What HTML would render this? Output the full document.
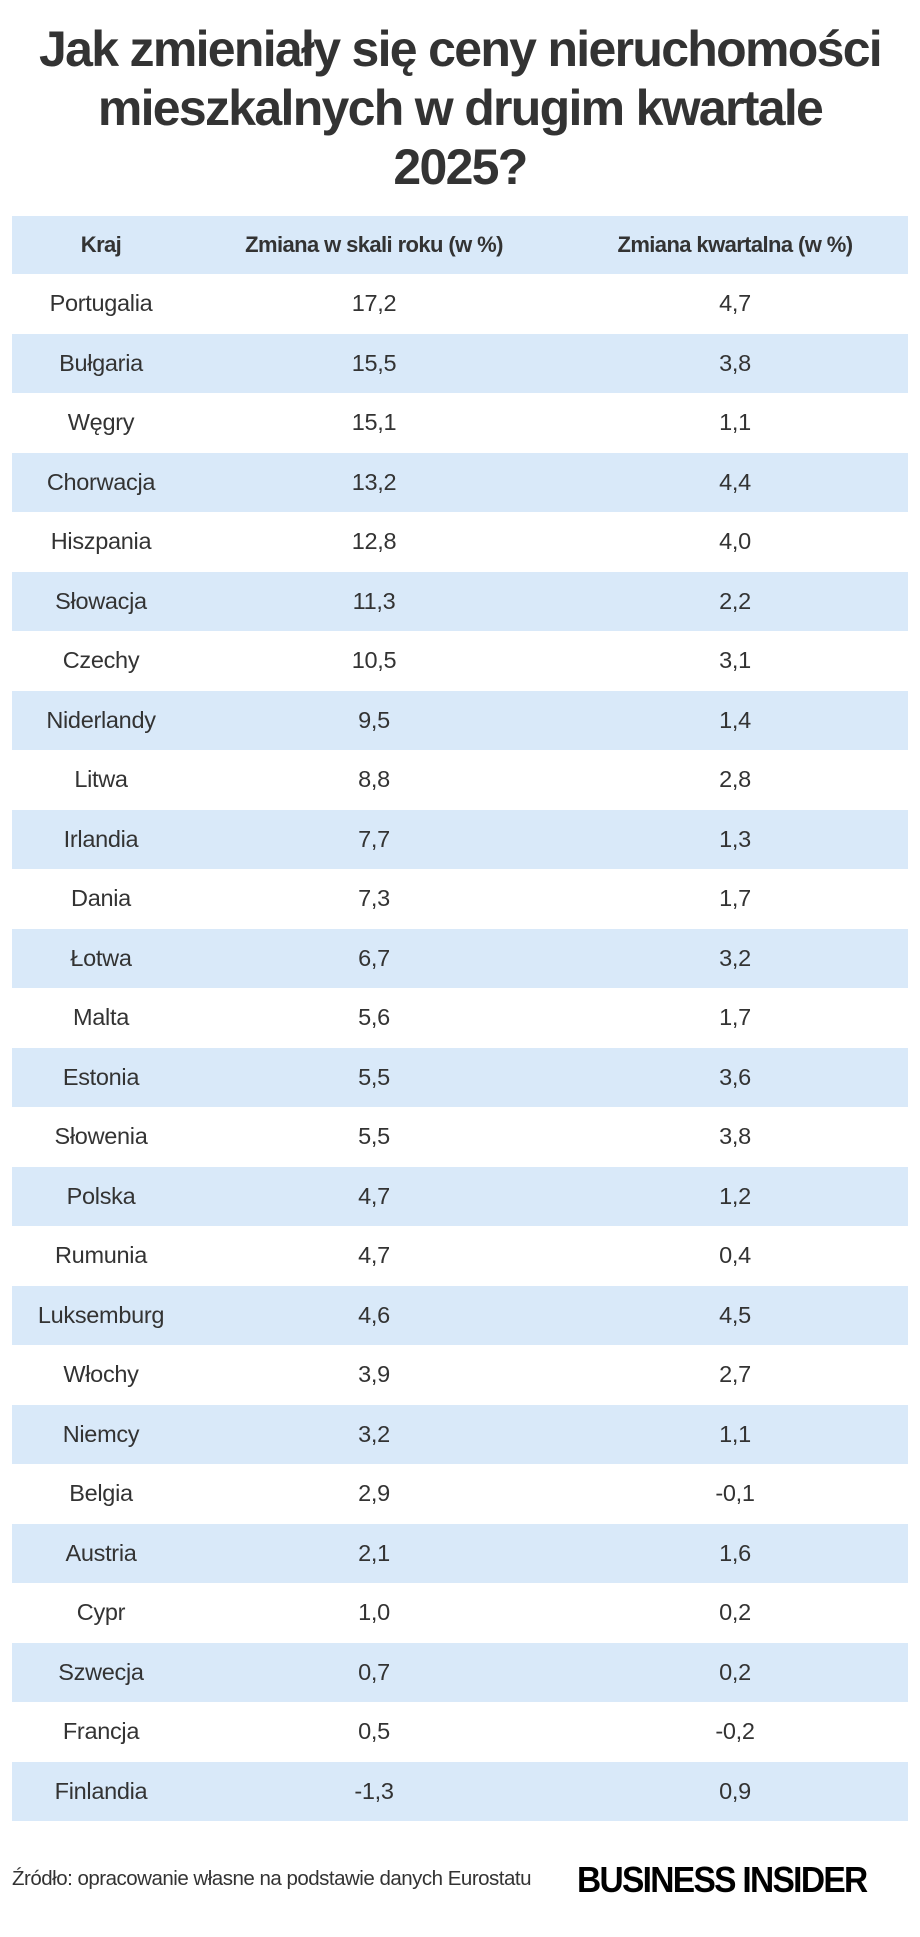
<!DOCTYPE html>
<html><head><meta charset="utf-8"><style>
body{margin:0;width:920px;height:1937px;background:#fff;font-family:"Liberation Sans",sans-serif;color:#333;position:relative;overflow:hidden}
.t{position:absolute;left:0;width:920px;text-align:center;font-weight:bold;font-size:50px;color:#333;letter-spacing:-1.7px}
.row{position:absolute;left:12px;width:896px;height:59.5px}
.b{background:#d9e9f9}
.c{position:absolute;top:0;line-height:59.5px;text-align:center;font-size:23.5px;color:#333;letter-spacing:-0.3px}
.c1{left:0;width:178px}.c2{left:262px;width:200px}.c3{left:623px;width:200px}
.h .c{font-weight:bold;font-size:22px;line-height:58px;letter-spacing:-0.6px}
</style></head><body>
<div class="t" style="top:20px">Jak zmieniały się ceny nieruchomości</div>
<div class="t" style="top:79px">mieszkalnych w drugim kwartale</div>
<div class="t" style="top:138px">2025?</div>
<div class="row b h" style="top:216px;height:58px"><div class="c c1">Kraj</div><div class="c c2" style="left:162px;width:400px">Zmiana w skali roku (w %)</div><div class="c c3" style="left:523px;width:400px">Zmiana kwartalna (w %)</div></div>
<div id="rows"></div>
<script>
var d=[["Portugalia","17,2","4,7"],["Bułgaria","15,5","3,8"],["Węgry","15,1","1,1"],["Chorwacja","13,2","4,4"],["Hiszpania","12,8","4,0"],["Słowacja","11,3","2,2"],["Czechy","10,5","3,1"],["Niderlandy","9,5","1,4"],["Litwa","8,8","2,8"],["Irlandia","7,7","1,3"],["Dania","7,3","1,7"],["Łotwa","6,7","3,2"],["Malta","5,6","1,7"],["Estonia","5,5","3,6"],["Słowenia","5,5","3,8"],["Polska","4,7","1,2"],["Rumunia","4,7","0,4"],["Luksemburg","4,6","4,5"],["Włochy","3,9","2,7"],["Niemcy","3,2","1,1"],["Belgia","2,9","-0,1"],["Austria","2,1","1,6"],["Cypr","1,0","0,2"],["Szwecja","0,7","0,2"],["Francja","0,5","-0,2"],["Finlandia","-1,3","0,9"]];
var h="";d.forEach(function(r,i){h+='<div class="row'+(i%2?' b':'')+'" style="top:'+(274+i*59.5)+'px"><div class="c c1">'+r[0]+'</div><div class="c c2">'+r[1]+'</div><div class="c c3">'+r[2]+'</div></div>';});
document.getElementById("rows").outerHTML=h;
</script>
<div style="position:absolute;left:12px;top:1867px;font-size:20.5px;color:#333;letter-spacing:-0.5px">Źródło: opracowanie własne na podstawie danych Eurostatu</div>
<div style="position:absolute;left:577px;top:1859px;font-size:36px;font-weight:bold;color:#000;letter-spacing:-1.8px;transform:scaleX(0.93);transform-origin:left">BUSINESS INSIDER</div>
</body></html>
